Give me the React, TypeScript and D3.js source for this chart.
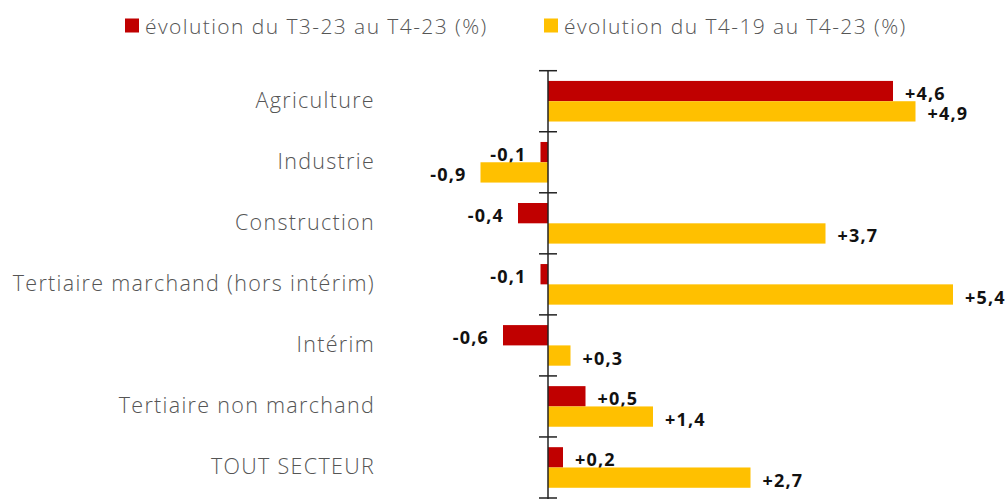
import React, { useRef, useEffect } from 'react'
import * as d3 from 'd3'

const categories = [
  'Agriculture',
  'Industrie',
  'Construction',
  'Tertiaire marchand (hors intérim)',
  'Intérim',
  'Tertiaire non marchand',
  'TOUT SECTEUR'
]
const seriesNames = ['évolution du T3-23 au T4-23 (%)', 'évolution du T4-19 au T4-23 (%)']
const trimestre = [4.6, -0.1, -0.4, -0.1, -0.6, 0.5, 0.2]
const depuis2019 = [4.9, -0.9, 3.7, 5.4, 0.3, 1.4, 2.7]
const colors = ['#C00000', '#FFC000']

const fmt = (v: number) => (v > 0 ? '+' : '') + v.toFixed(1).replace('.', ',')

export default function App() {
  const ref = useRef<SVGSVGElement>(null)

  useEffect(() => {
    const svg = d3.select(ref.current)
    svg.selectAll('*').remove()

    const width = 1007
    const height = 499

    const x = d3.scaleLinear().domain([-1, 6]).range([473, 998])
    const y = d3.scaleBand().domain(categories).range([70.7, 498]).padding(0)
    const pair = 40.6
    const y1 = d3.scaleBand().domain(['0', '1']).range([0, pair])
    const off = (y.bandwidth() - pair) / 2

    const rows = categories.map((c, i) => ({ cat: c, vals: [trimestre[i], depuis2019[i]] }))

    const g = svg.append('g')

    // bars + value labels
    rows.forEach((r) => {
      r.vals.forEach((v, s) => {
        const top = (y(r.cat) as number) + off + (y1(String(s)) as number)
        g.append('rect')
          .attr('x', x(Math.min(0, v)))
          .attr('y', top)
          .attr('width', Math.abs(x(v) - x(0)))
          .attr('height', y1.bandwidth())
          .attr('fill', colors[s])

        g.append('text')
          .attr('x', v >= 0 ? x(v) + 12 : x(v) - 14)
          .attr('y', top + y1.bandwidth() / 2 + 9)
          .attr('text-anchor', v >= 0 ? 'start' : 'end')
          .attr('font-family', 'Open Sans')
          .attr('font-weight', 700)
          .attr('font-size', 18)
          .attr('letter-spacing', 1.2)
          .attr('fill', '#111')
          .text(fmt(v))
      })
    })

    // category labels
    g.selectAll('.cat')
      .data(categories)
      .enter()
      .append('text')
      .attr('class', 'cat')
      .attr('x', 375)
      .attr('y', (d) => (y(d) as number) + y.bandwidth() / 2 + 7)
      .attr('text-anchor', 'end')
      .attr('font-family', 'Open Sans')
      .attr('font-weight', 300)
      .attr('font-size', 21.5)
      .attr('letter-spacing', 1.3)
      .attr('fill', '#555')
      .text((d) => d)

    // axis
    const ax = g.append('g').attr('stroke', '#222').attr('stroke-width', 1.5)
    ax.append('line')
      .attr('x1', x(0)).attr('x2', x(0))
      .attr('y1', y.range()[0]).attr('y2', height)
    const bounds = categories.map((c) => y(c) as number).concat([y.range()[1]])
    ax.selectAll('.tk')
      .data(bounds)
      .enter()
      .append('line')
      .attr('x1', x(0) - 9).attr('x2', x(0) + 9)
      .attr('y1', (d) => d).attr('y2', (d) => d)

    // legend
    const legX = [125, 544]
    seriesNames.forEach((n, i) => {
      g.append('rect')
        .attr('x', legX[i]).attr('y', 18.5)
        .attr('width', 14).attr('height', 14)
        .attr('fill', colors[i])
      g.append('text')
        .attr('x', legX[i] + 20)
        .attr('y', 33.5)
        .attr('font-family', 'Open Sans')
        .attr('font-weight', 300)
        .attr('font-size', 21)
        .attr('letter-spacing', 1.42)
        .attr('fill', '#555')
        .text(n)
    })

    svg.attr('width', width).attr('height', height)
  }, [])

  return (
    <svg ref={ref} width={1007} height={499} style={{ position: 'absolute', left: 0, top: 0 }} />
  )
}
